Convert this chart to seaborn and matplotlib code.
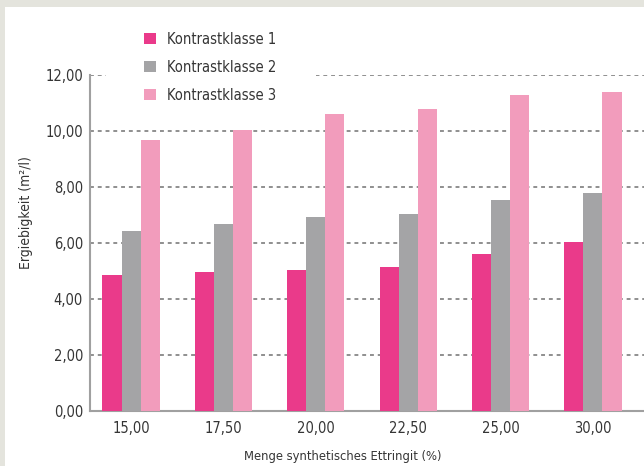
import matplotlib
matplotlib.use("Agg")
import matplotlib.pyplot as plt
import seaborn as sns
import pandas as pd
from matplotlib.patches import Rectangle

# Daten
mengen = ["15,00", "17,50", "20,00", "22,50", "25,00", "30,00"]
klasse1 = [4.85, 4.97, 5.05, 5.15, 5.62, 6.02]
klasse2 = [6.42, 6.67, 6.92, 7.03, 7.52, 7.80]
klasse3 = [9.68, 10.05, 10.60, 10.78, 11.28, 11.40]
serien = ["Kontrastklasse 1", "Kontrastklasse 2", "Kontrastklasse 3"]
yticks = [0, 2, 4, 6, 8, 10, 12]
ytick_labels = ["0,00", "2,00", "4,00", "6,00", "8,00", "10,00", "12,00"]

farben = ["#ea3a8a", "#a4a4a6", "#f29cbc"]
textfarbe = "#353535"

df = pd.DataFrame({
    "Menge": mengen * 3,
    "Wert": klasse1 + klasse2 + klasse3,
    "Klasse": [serien[0]] * 6 + [serien[1]] * 6 + [serien[2]] * 6,
})

sns.set_style("white")
plt.rcParams["font.family"] = ["DejaVu Sans"]
plt.rcParams["font.stretch"] = "condensed"

fig = plt.figure(figsize=(6.44, 4.66), dpi=100)
fig.patch.set_facecolor("#e4e4dd")
# weisses Panel hinter der Grafik
fig.patches.append(Rectangle((5 / 644, 0), 1, (466 - 7) / 466,
                             transform=fig.transFigure, facecolor="white",
                             edgecolor="none", zorder=-10))

ax = fig.add_axes([90 / 644, 55 / 466, 1 - 90 / 644 + 0.001, 336 / 466])
ax.set_facecolor("none")

sns.barplot(data=df, x="Menge", y="Wert", hue="Klasse", hue_order=serien,
            palette=farben, width=0.62, saturation=1, ax=ax, zorder=3,
            edgecolor="none")

ax.set_xlim(-0.445, 5.56)
ax.set_ylim(0, 12)
ax.set_yticks(yticks)
ax.set_yticklabels(ytick_labels)
ax.yaxis.grid(True, color="#8f8f8f", linestyle=(0, (2, 2)), linewidth=1.4,
              zorder=0)
ax.set_axisbelow(True)

# Lücke in der obersten Rasterlinie hinter der Legende
ax.add_patch(Rectangle((106 / 644, 1 - 84 / 466), 210 / 644, 60 / 466,
                       transform=fig.transFigure, facecolor="white",
                       edgecolor="none", zorder=1, clip_on=False))

for s in ["top", "right"]:
    ax.spines[s].set_visible(False)
ax.spines["left"].set_color("#a0a0a0")
ax.spines["left"].set_linewidth(1.5)
ax.spines["bottom"].set_color("#a0a0a0")
ax.spines["bottom"].set_linewidth(1.5)

ax.tick_params(axis="both", labelsize=10.5, labelcolor=textfarbe,
               length=0, pad=5)
ax.tick_params(axis="x", pad=7)

ax.set_xlabel("Menge synthetisches Ettringit (%)", fontsize=9.3,
              color=textfarbe)
ax.xaxis.set_label_coords((342 - 90) / 554, -0.116)
ax.set_ylabel("Ergiebigkeit (m²/l)", fontsize=10, color=textfarbe)
ax.yaxis.set_label_coords(-0.103, 0.59)

leg = ax.legend(loc="upper left", bbox_to_anchor=(138 / 644, 1 - 26 / 466),
                bbox_transform=fig.transFigure, frameon=True,
                facecolor="white", edgecolor="none", framealpha=1,
                fontsize=10.5, handlelength=0.82, handleheight=0.82,
                labelspacing=0.88, handletextpad=0.75, borderpad=0.4,
                borderaxespad=0, fancybox=False)
for t in leg.get_texts():
    t.set_color(textfarbe)

fig.savefig("out.png", dpi=100, facecolor=fig.get_facecolor())
